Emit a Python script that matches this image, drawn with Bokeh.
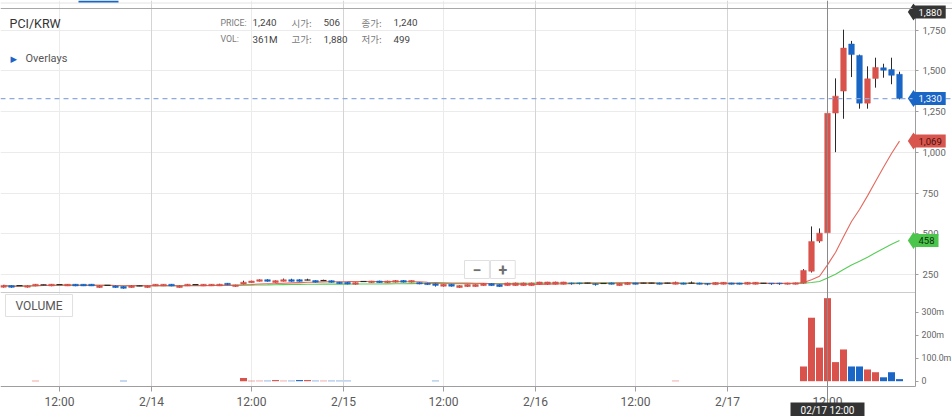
import numpy as np
import pandas as pd
from bokeh.plotting import figure
from bokeh.models import (ColumnDataSource, FixedTicker, NumeralTickFormatter, Range1d,
                          Span, Label, LinearAxis, Grid, BoxAnnotation)
from bokeh.embed import file_html
from bokeh.resources import INLINE

# ---------------- data ----------------
symbol = "PCI/KRW"

opens = [172, 182, 182, 172, 180, 186, 180, 188, 180, 190,
         190, 190, 170, 183, 180, 176, 170, 180, 170, 180,
         180, 190, 170, 180, 188, 180, 180, 180, 196, 176,
         192, 200, 208, 218, 201, 208, 218, 218, 216, 213,
         213, 212, 203, 202, 190, 207, 200, 210, 200, 203,
         213, 203, 200, 197, 193, 178, 190, 170, 176, 176,
         182, 194, 188, 182, 182, 182, 182, 190, 190, 190,
         190, 198, 198, 197, 193, 195, 198, 182, 188, 198,
         197, 197, 198, 197, 190, 198, 197, 198, 195, 188,
         190, 198, 198, 190, 190, 196, 197, 197, 190, 190,
         197, 270, 455, 506, 1241, 1376, 1665, 1595, 1302, 1454,
         1519, 1508, 1479]

closes = [183, 171, 182, 181, 190, 186, 190, 188, 190, 180,
          180, 180, 180, 183, 170, 165, 180, 180, 180, 190,
          190, 180, 180, 190, 188, 190, 190, 190, 187, 186,
          203, 210, 218, 208, 212, 218, 208, 208, 216, 203,
          213, 202, 194, 192, 200, 207, 210, 200, 210, 213,
          203, 213, 192, 188, 183, 190, 178, 182, 188, 188,
          194, 182, 176, 198, 198, 198, 198, 204, 204, 204,
          204, 194, 194, 197, 188, 195, 190, 196, 200, 190,
          197, 197, 190, 197, 202, 190, 197, 190, 190, 201,
          202, 190, 190, 202, 202, 196, 193, 193, 198, 199,
          275, 453, 504, 1240, 1345, 1640, 1600, 1302, 1451, 1521,
          1504, 1473, 1330]

highs = [186, 184, 184, 183, 192, 188, 192, 190, 191, 192,
         191, 192, 182, 185, 182, 178, 182, 182, 181, 191,
         191, 192, 182, 192, 190, 191, 191, 193, 198, 187,
         212, 212, 220, 221, 214, 225, 224, 221, 224, 215,
         218, 214, 205, 204, 202, 209, 211, 212, 212, 216,
         216, 214, 202, 199, 195, 191, 192, 184, 189, 189,
         195, 196, 190, 200, 200, 200, 200, 205, 205, 206,
         205, 200, 199, 199, 195, 197, 200, 197, 201, 199,
         199, 199, 200, 199, 206, 200, 207, 200, 197, 202,
         203, 199, 199, 203, 203, 198, 198, 199, 199, 200,
         283, 545, 533, 1880, 1454, 1753, 1684, 1600, 1528, 1581,
         1544, 1581, 1495]

lows = [170, 169, 180, 170, 178, 184, 178, 186, 179, 178,
        179, 179, 168, 181, 168, 163, 169, 178, 169, 179,
        179, 178, 169, 179, 186, 179, 179, 179, 185, 174,
        190, 199, 207, 206, 200, 207, 206, 206, 214, 201,
        211, 200, 192, 190, 188, 205, 198, 199, 198, 201,
        201, 201, 190, 186, 176, 176, 176, 168, 174, 175,
        181, 180, 174, 181, 181, 181, 181, 189, 188, 189,
        189, 188, 189, 195, 182, 193, 189, 181, 187, 189,
        195, 195, 189, 195, 189, 189, 195, 189, 184, 187,
        189, 189, 189, 189, 189, 194, 187, 187, 189, 189,
        195, 262, 445, 499, 1001, 1206, 1462, 1268, 1268, 1397,
        1458, 1418, 1325]

# volume in millions
volumes = [0, 0, 0, 0, 2, 0, 0, 0, 0, 0,
           0, 0, 0, 0, 0, 2, 0, 0, 0, 0,
           0, 0, 0, 0, 0, 0, 0, 0, 0, 0,
           14, 2, 2, 2, 5, 2, 2, 5, 5, 2,
           2, 2, 2, 2, 0, 0, 0, 0, 0, 0,
           0, 0, 0, 0, 2, 0, 0, 0, 0, 0,
           0, 0, 0, 0, 0, 0, 0, 0, 0, 0,
           0, 0, 0, 0, 0, 0, 0, 0, 0, 0,
           0, 0, 0, 0, 2, 0, 0, 0, 0, 0,
           0, 0, 0, 0, 0, 0, 0, 0, 0, 0,
           64, 276, 146, 361, 83, 138, 64, 64, 51, 39,
           17, 39, 9]

tick_positions = [7, 18.5, 31, 42.5, 55, 66.5, 79, 90.5, 103]
tick_labels = ["12:00", "2/14", "12:00", "2/15", "12:00", "2/16", "12:00", "2/17", "12:00"]
day_ticks = [18.5, 42.5, 66.5, 90.5]
noon_ticks = [7, 31, 55, 79, 103]
price_ticks = [250, 500, 750, 1000, 1250, 1500, 1750]
vol_ticks = [0, 100, 200, 300]
vol_tick_labels = ["0", "100.0m", "200m", "300m"]
cursor_index = 103
cursor_label = "02/17 12:00"
ma_short, ma_long = 15, 50

# ---------------- derived ----------------
idx = np.arange(len(opens))
o = np.array(opens, float); c = np.array(closes, float)
h = np.array(highs, float); l = np.array(lows, float)
v = np.array(volumes, float)
UP, DOWN = "#d9534c", "#1a66c6"
up = c >= o
colors = np.where(up, UP, DOWN)
doji = o == c
ma_s = pd.Series(c).rolling(ma_short, min_periods=1).mean().values
ma_l = pd.Series(c).rolling(ma_long, min_periods=1).mean().values

# ---------------- layout (pixels of the 952x416 canvas) ----------------
W, H = 952, 416
PX_PER_IDX = 8.0
X_START = -3 / PX_PER_IDX
X_END = X_START + W / PX_PER_IDX
def xd(px):            # canvas x pixel -> candle index units
    return X_START + px / PX_PER_IDX
AXIS_PX = 915
X_AXIS = xd(AXIS_PX)

PRICE_TOP_PX, PRICE_BOT_PX, VOL_BOT_PX = 8, 292, 386
P_AT_TOP, P_AT_BOT = 1883.0, 139.5
UPP = (P_AT_TOP - P_AT_BOT) / (PRICE_BOT_PX - PRICE_TOP_PX)
P_CANVAS_TOP = P_AT_TOP + PRICE_TOP_PX * UPP
P_CANVAS_BOT = P_CANVAS_TOP - H * UPP
def pd_(py):           # canvas y pixel -> price units
    return P_CANVAS_TOP - py * UPP
V_ZERO_PX, V_PX_PER_M = 380.7, 0.23
V_CANVAS_TOP = V_ZERO_PX / V_PX_PER_M
V_CANVAS_BOT = (V_ZERO_PX - H) / V_PX_PER_M
def sy(py):            # canvas y pixel -> screen units (from frame bottom)
    return H - py

FONT = "Roboto"

p = figure(width=W, height=H, output_backend="svg", toolbar_location=None,
           x_range=Range1d(X_START, X_END), y_range=Range1d(P_CANVAS_BOT, P_CANVAS_TOP),
           y_axis_location="right", min_border_left=0, min_border_right=0,
           min_border_top=0, min_border_bottom=0)
p.extra_y_ranges = {"vol": Range1d(V_CANVAS_BOT, V_CANVAS_TOP)}
p.outline_line_color = None
p.background_fill_color = "white"
p.border_fill_color = "white"

# ---- price axis (right, drawn at the axis position) ----
ya = p.yaxis[0]
ya.fixed_location = X_AXIS
ya.bounds = (pd_(VOL_BOT_PX), pd_(PRICE_TOP_PX))
ya.ticker = FixedTicker(ticks=price_ticks)
ya.formatter = NumeralTickFormatter(format="0,0")
ya.major_label_text_font = FONT
ya.major_label_text_font_size = "9.5px"
ya.major_label_text_color = "#666666"
ya.major_tick_out = 3
ya.major_tick_in = 0
ya.minor_tick_line_color = None
ya.major_tick_line_color = "#9e9e9e"
ya.axis_line_color = "#9e9e9e"
ya.major_label_standoff = 4

# ---- volume axis ----
va = LinearAxis(y_range_name="vol", fixed_location=X_AXIS,
                ticker=FixedTicker(ticks=vol_ticks),
                major_label_overrides={t: s for t, s in zip(vol_ticks, vol_tick_labels)},
                major_label_text_font=FONT, major_label_text_font_size="8.8px",
                major_label_text_color="#666666", major_tick_out=3, major_tick_in=0,
                minor_tick_line_color=None, major_tick_line_color="#9e9e9e",
                axis_line_color=None, major_label_standoff=3)
p.add_layout(va, "right")

# ---- time axis ----
xa = p.xaxis[0]
xa.fixed_location = pd_(VOL_BOT_PX)
xa.bounds = (X_START, X_AXIS)
xa.ticker = FixedTicker(ticks=tick_positions)
xa.major_label_overrides = {t: s for t, s in zip(tick_positions, tick_labels)}
xa.major_label_text_font = FONT
xa.major_label_text_font_size = "12px"
xa.major_label_text_color = "#5a5a5a"
xa.major_tick_out = 5
xa.major_tick_in = 0
xa.minor_tick_line_color = None
xa.major_tick_line_color = "#9e9e9e"
xa.axis_line_color = "#9e9e9e"
xa.major_label_standoff = 3

# ---- grids ----
p.xgrid.ticker = FixedTicker(ticks=noon_ticks)
p.xgrid.grid_line_color = "#ebebeb"
p.xgrid.cross_bounds = (pd_(VOL_BOT_PX), P_CANVAS_TOP)
p.add_layout(Grid(dimension=0, ticker=FixedTicker(ticks=day_ticks), grid_line_color="#d4d4d4",
                  cross_bounds=(pd_(VOL_BOT_PX), P_CANVAS_TOP)))
p.ygrid.ticker = FixedTicker(ticks=price_ticks)
p.ygrid.grid_line_color = "#ebebeb"
p.ygrid.cross_bounds = (X_START, X_AXIS)

# panel borders / header strip
p.add_layout(Span(location=pd_(PRICE_TOP_PX), dimension="width", line_color="#a8a8a8", line_width=1))
p.add_layout(Span(location=pd_(2.5), dimension="width", line_color="#e4e4e4", line_width=1))
p.add_layout(BoxAnnotation(left=78, right=118, top=H, bottom=H - 2, left_units="screen",
                           right_units="screen", top_units="screen", bottom_units="screen",
                           fill_color="#1a66c6", fill_alpha=1, line_color=None))
p.segment(x0=[X_START], y0=[P_AT_BOT], x1=[X_AXIS], y1=[P_AT_BOT], line_color="#cccccc",
          line_width=1.2)

# ---- volume ----
vsrc = ColumnDataSource(dict(x=idx, top=v, color=colors))
p.vbar(x="x", top="top", bottom=0, width=0.875, fill_color="color", line_color=None,
       source=vsrc, y_range_name="vol")

# ---- moving averages ----
p.line(idx, ma_l, line_color="#58cc58", line_width=1.1)
p.line(idx, ma_s, line_color="#e3685e", line_width=1.1)

# ---- candles ----
csrc = ColumnDataSource(dict(x=idx, h=h, l=l))
p.segment(x0="x", y0="l", x1="x", y1="h", line_color="#2b2b2b", line_width=1, source=csrc)
nd = ~doji
bsrc = ColumnDataSource(dict(x=idx[nd], top=np.maximum(o, c)[nd], bot=np.minimum(o, c)[nd],
                             color=colors[nd]))
p.vbar(x="x", top="top", bottom="bot", width=0.7, fill_color="color", line_color="color",
       line_width=0.5, source=bsrc)
dsrc = ColumnDataSource(dict(x=idx[doji], y=c[doji]))
p.scatter(x="x", y="y", marker="dash", size=6, line_color="#2b2b2b", line_width=1.2, source=dsrc)

# ---- last price dashed line & cursor ----
last_close = c[-1]
p.add_layout(Span(location=last_close, dimension="width", line_color="#8eaadc",
                  line_width=1.3, line_dash="5 4"))
p.add_layout(Span(location=cursor_index, dimension="height", line_color="#8a8a8a", line_width=1))

# ---- price tags on the axis (padding = left, right, top, bottom) ----
TAG_LEFT_PX = 912
tags = [(h.max(), "#353535", "white"),
        (last_close, "#1a66c6", "white"),
        (ma_s[-1], "#d9564e", "#4a0f0b"),
        (ma_l[-1], "#4cc54c", "#0c300c")]
for val, bg, fg in tags:
    y_disp = min(val, pd_(11.5))
    p.scatter(x=[xd(TAG_LEFT_PX + 1)], y=[y_disp], marker="diamond", size=17,
              fill_color=bg, line_color=None)
    p.add_layout(Label(x=TAG_LEFT_PX, y=y_disp, x_units="screen", text=f"{val:,.0f}",
                       text_font=FONT, text_font_size="9.5px", text_color=fg,
                       text_baseline="middle", text_align="left",
                       background_fill_color=bg, padding=(6, 4, 3, 3)))

# ---- header texts ----
p.add_layout(Label(x=9, y=sy(23), x_units="screen", y_units="screen", text=symbol,
                   text_font=FONT, text_font_size="12.5px", text_color="#333333",
                   text_baseline="middle"))
i = cursor_index
rows = [[("PRICE:", 220), (f"{c[i]:,.0f}", 252), ("시가:", 291), (f"{o[i]:,.0f}", 323),
         ("종가:", 361), (f"{c[i]:,.0f}", 393)],
        [("VOL:", 220), (f"{v[i]:.0f}M", 252), ("고가:", 291), (f"{h[i]:,.0f}", 323),
         ("저가:", 361), (f"{l[i]:,.0f}", 393)]]
for r, py in zip(rows, [22, 38.5]):
    for k, (txt, xx) in enumerate(r):
        is_key = k % 2 == 0
        korean = is_key and not txt.isascii()
        p.add_layout(Label(x=xx, y=sy(py), x_units="screen", y_units="screen", text=txt,
                           text_font="Noto Sans CJK KR" if korean else FONT,
                           text_font_size=("9.5px" if korean else "8.8px") if is_key else "9.8px",
                           text_color="#7a7a7a" if is_key else "#444444",
                           text_baseline="middle"))
p.add_layout(Label(x=10, y=sy(58), x_units="screen", y_units="screen", text="▶",
                   text_font="DejaVu Sans", text_font_size="8.5px", text_color="#1a66c6",
                   text_baseline="middle"))
p.add_layout(Label(x=25, y=sy(58), x_units="screen", y_units="screen", text="Overlays",
                   text_font=FONT, text_font_size="11px", text_color="#555555",
                   text_baseline="middle"))

# ---- VOLUME box ----
p.add_layout(Label(x=5, y=sy(305), x_units="screen", y_units="screen", text="VOLUME",
                   text_font=FONT, text_font_size="12px", text_color="#555555",
                   text_baseline="middle", background_fill_color="white",
                   border_line_color="#e0e0e0", padding=(10, 10, 4, 4)))

# ---- zoom buttons ----
for txt, xx in [("−", 464), ("+", 490)]:
    p.add_layout(Label(x=xx, y=sy(269), x_units="screen", y_units="screen", text=txt,
                       text_font=FONT, text_font_size="16px", text_font_style="bold",
                       text_color="#707070", text_baseline="middle",
                       background_fill_color="white", border_line_color="#e0e0e0",
                       padding=(8, 8, 3, 3)))

# ---- cursor time tag under the axis ----
p.add_layout(Label(x=cursor_index, y=sy(409.5), y_units="screen", text=cursor_label,
                   text_font=FONT, text_font_size="10px", text_color="white",
                   text_align="center", text_baseline="middle",
                   background_fill_color="#333333", padding=(10, 10, 2, 2)))

open("out.html", "w").write(file_html(p, INLINE))
